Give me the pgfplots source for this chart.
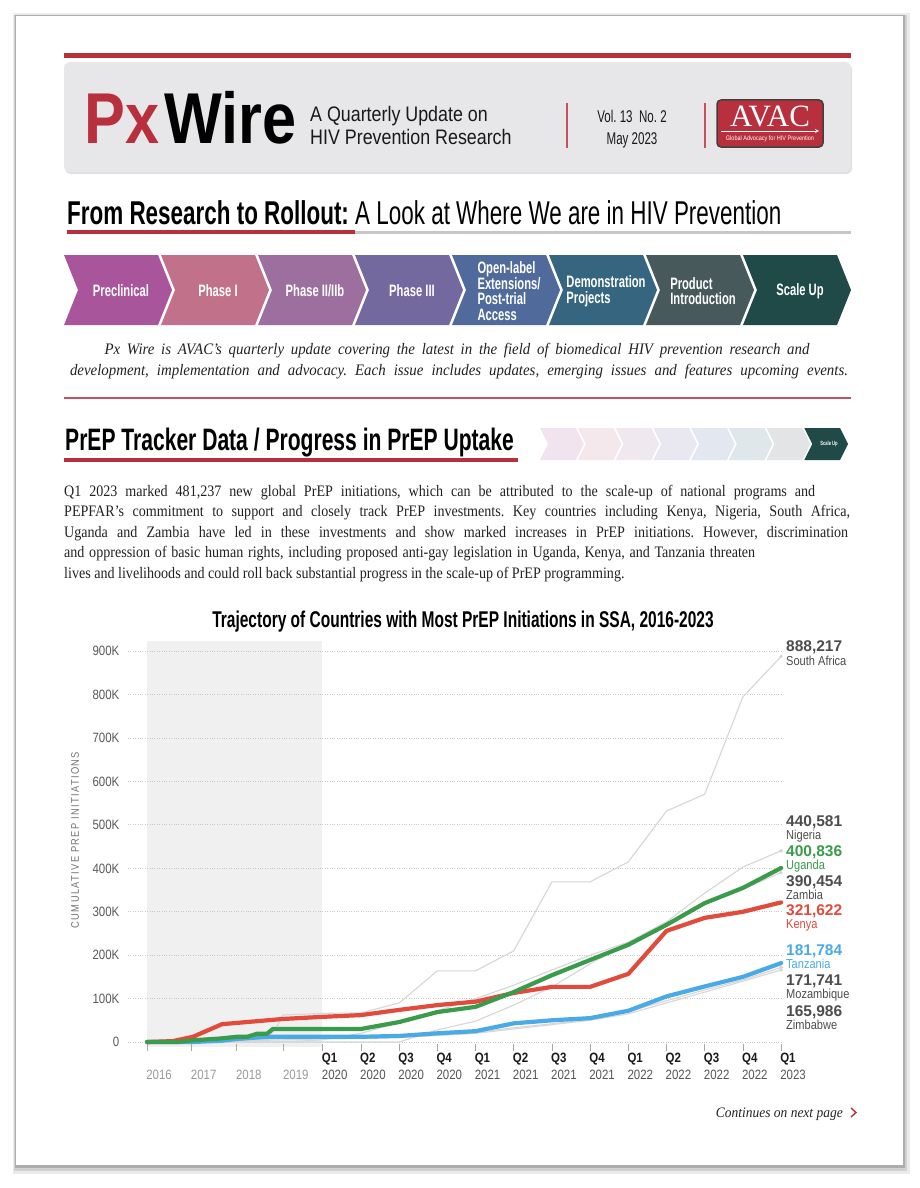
\documentclass[border=0pt]{standalone}
\usepackage{fontspec}
\usepackage{pgfplots}
\pgfplotsset{compat=1.18}
\setmainfont{Liberation Serif}
\newfontfamily\cond[FakeStretch=0.68]{Liberation Sans}
\newfontfamily\condm[FakeStretch=0.85]{Liberation Sans}
\newfontfamily\sansf{Liberation Sans}
\newfontfamily\bodyf[FakeStretch=0.88]{Liberation Serif}
\newfontfamily\itf[FakeStretch=0.93]{Liberation Serif}
\definecolor{avred}{HTML}{B82F3E}
\definecolor{sepred}{HTML}{C8505C}
\definecolor{hdrgray}{HTML}{E7E7E9}
\definecolor{ch1}{HTML}{A9559C}
\definecolor{ch2}{HTML}{C2718A}
\definecolor{ch3}{HTML}{9D6F9E}
\definecolor{ch4}{HTML}{73699F}
\definecolor{ch5}{HTML}{4F6A9B}
\definecolor{ch6}{HTML}{36667F}
\definecolor{ch7}{HTML}{47595B}
\definecolor{ch8}{HTML}{1F4A48}
\definecolor{kred}{HTML}{E04B3B}
\definecolor{ugreen}{HTML}{3A9B4B}
\definecolor{tblue}{HTML}{4AAAE6}
\definecolor{lgray}{HTML}{D6D6D6}
\definecolor{lab}{HTML}{4D4D4D}
\definecolor{yrgray}{HTML}{9A9A9A}
\definecolor{qgray}{HTML}{555555}
\definecolor{bodyc}{HTML}{222222}
\newcommand\fs[2]{\fontsize{#1}{#2}\selectfont}
\newcommand\yr[1]{\phantom{Q1}\\\textcolor{yrgray}{#1}}
\newcommand\qt[2]{\textcolor{black!90}{\bfseries Q#1}\\\textcolor{qgray}{#2}}
\frenchspacing
\begin{document}
\begin{tikzpicture}
\begin{scope}[x=1pt,y=-1pt]
\path[use as bounding box] (0,0) rectangle (920,1188);
\fill[white] (0,0) rectangle (920,1188);
% page card with shadow
\fill[black!8] (13,13) rectangle (910,1174);
\fill[black!18] (14,15) rectangle (907,1171);
\fill[black!32] (15,15) rectangle (905,1168);
\fill[white] (16,16) rectangle (903,1165);
% header
\fill[avred] (64,53) rectangle (851,58);
\fill[black!12, rounded corners=6] (65,64) rectangle (852,174);
\fill[hdrgray, rounded corners=6] (64,62) rectangle (851,172);
\node[anchor=base west,inner sep=0,text=avred,font=\condm\bfseries\fs{72}{72}] at (84,143) {Px};
\node[anchor=base west,inner sep=0,text=black,font=\condm\bfseries\fs{72}{72}] at (164,143) {Wire};
\node[anchor=base west,inner sep=0,text=black!90,font=\condm\fs{21}{21}] at (310,122) {A Quarterly Update on};
\node[anchor=base west,inner sep=0,text=black!90,font=\condm\fs{21}{21}] at (310,145) {HIV Prevention Research};
\draw[sepred, line width=1.2pt] (567,103) -- (567,148);
\draw[sepred, line width=1.2pt] (705,103) -- (705,148);
\node[anchor=base,inner sep=0,text=black!90,font=\cond\fs{17}{17}] at (632,123) {Vol. 13\ \ No. 2};
\node[anchor=base,inner sep=0,text=black!90,font=\cond\fs{17}{17}] at (632,144) {May 2023};
\draw[fill=avred, draw=black!75, line width=1.5pt, rounded corners=4] (717,100) rectangle (823,147);
\node[anchor=base,inner sep=0,text=white,font=\fs{31}{31}] at (770,127) {AVAC};
\draw[white, line width=0.8pt, -stealth] (721,131) -- (819,131);
\node[anchor=base,inner sep=0,text=white,font=\condm\fs{6.5}{6.5}] at (770,141) {Global Advocacy for HIV Prevention};
% section 1 title
\node[anchor=base west,inner sep=0,text=black,font=\cond\fs{33}{33}] at (67,224) {{\bfseries From Research to Rollout:} A Look at Where We are in HIV Prevention};
\fill[black!22] (355,231) rectangle (851,233.5);
\fill[avred] (67,230) rectangle (355,234);
% chevrons
\foreach \i/\c in {0/ch1,1/ch2,2/ch3,3/ch4,4/ch5,5/ch6,6/ch7,7/ch8}{
  \pgfmathsetmacro\xa{64+\i*97}
  \fill[\c] (\xa,255) -- ++(94,0) -- ++(14,35) -- ++(-14,35) -- ++(-94,0) -- ++(14,-35) -- cycle;
}
\foreach \i/\t in {0/{Preclinical},1/{Phase I},2/{Phase II/IIb},3/{Phase III},4/{Open-label\\Extensions/\\Post-trial\\Access},5/{Demonstration\\Projects},6/{Product\\Introduction},7/{Scale Up}}{
  \pgfmathsetmacro\xc{64+\i*97+57}
  \node[align=left,inner sep=0,text=white,font=\cond\bfseries\fs{16.5}{15.5}] at (\xc,291) {\t};
}
% italic intro
\node[anchor=base,inner sep=0,text=bodyc,font=\itf\itshape\fs{16}{16}] at (457,354) {\makebox[705pt][s]{Px Wire is AVAC’s quarterly update covering the latest in the field of biomedical HIV prevention research and}};
\node[anchor=base,inner sep=0,text=bodyc,font=\itf\itshape\fs{16}{16}] at (459,375) {\makebox[778pt][s]{development, implementation and advocacy. Each issue includes updates, emerging issues and features upcoming events.}};
\fill[sepred] (64,397) rectangle (851,399);
% section 2 title
\node[anchor=base west,inner sep=0,text=black,font=\cond\bfseries\fs{31}{31}] at (65,450) {PrEP Tracker Data / Progress in PrEP Uptake};
\fill[avred] (64,458) rectangle (518,462);
\foreach \i/\c in {0/ch1,1/ch2,2/ch3,3/ch4,4/ch5,5/ch6,6/ch7}{
  \pgfmathsetmacro\xa{540+\i*37.75}
  \fill[\c!16] (\xa,428) -- ++(35.75,0) -- ++(8,16) -- ++(-8,16) -- ++(-35.75,0) -- ++(8,-16) -- cycle;
}
\fill[ch8] (804.25,428) -- ++(35.75,0) -- ++(8,16) -- ++(-8,16) -- ++(-35.75,0) -- ++(8,-16) -- cycle;
\node[inner sep=0,text=white,font=\cond\bfseries\fs{6}{6}] at (829,444) {Scale Up};
% body text
\node[anchor=base west,inner sep=0,text=bodyc,font=\bodyf\fs{16}{16}] at (64,496) {\makebox[751pt][s]{Q1 2023 marked 481,237 new global PrEP initiations, which can be attributed to the scale-up of national programs and}};
\node[anchor=base west,inner sep=0,text=bodyc,font=\bodyf\fs{16}{16}] at (64,516.5) {\makebox[786pt][s]{PEPFAR’s commitment to support and closely track PrEP investments. Key countries including Kenya, Nigeria, South Africa,}};
\node[anchor=base west,inner sep=0,text=bodyc,font=\bodyf\fs{16}{16}] at (64,537) {\makebox[784pt][s]{Uganda and Zambia have led in these investments and show marked increases in PrEP initiations. However, discrimination}};
\node[anchor=base west,inner sep=0,text=bodyc,font=\bodyf\fs{16}{16}] at (64,557.5) {\makebox[691pt][s]{and oppression of basic human rights, including proposed anti-gay legislation in Uganda, Kenya, and Tanzania threaten}};
\node[anchor=base west,inner sep=0,text=bodyc,font=\bodyf\fs{16}{16}] at (64,578) {lives and livelihoods and could roll back substantial progress in the scale-up of PrEP programming.};
% chart title
\node[anchor=base,inner sep=0,text=black,font=\cond\bfseries\fs{22.8}{22.8}] at (463,627) {Trajectory of Countries with Most PrEP Initiations in SSA, 2016-2023};
\node[rotate=90,inner sep=0,text=black!55,font=\condm\fs{11}{11}\addfontfeatures{LetterSpace=12}] at (75,840) {CUMULATIVE PREP INITIATIONS};
% shaded pre-2020 band
\fill[black!6] (147,641) rectangle (322,1047.2);
% footer
\node[anchor=base east,inner sep=0,text=bodyc,font=\itf\itshape\fs{14.5}{14.5}] at (843,1117) {Continues on next page};
\draw[avred, line width=1.4pt] (851,1108) -- (856,1112.5) -- (851,1117);
\end{scope}

\begin{axis}[
  at={(128pt,-1047.2pt)}, anchor=south west,
  scale only axis, width=655pt, height=406.7pt,
  xmin=-5.1, xmax=12.05, ymin=-12000, ymax=925000,
  clip=false,
  axis line style={draw=none},
  ymajorgrids, grid style={dotted, line width=1pt, color=black!22},
  ytick={0,100000,200000,300000,400000,500000,600000,700000,800000,900000},
  yticklabels={0,100K,200K,300K,400K,500K,600K,700K,800K,900K},
  scaled y ticks=false,
  yticklabel style={font=\condm\fs{13.5}{13.5}, text=black!65, inner sep=0pt, xshift=-5pt},
  ytick style={draw=none},
  tick pos=left,
  xtick={-4.6,-3.43,-2.25,-1.02,0,1,2,3,4,5,6,7,8,9,10,11,12},
  xticklabels={{\yr{2016}},{\yr{2017}},{\yr{2018}},{\yr{2019}},{\qt{1}{2020}},{\qt{2}{2020}},{\qt{3}{2020}},{\qt{4}{2020}},{\qt{1}{2021}},{\qt{2}{2021}},{\qt{3}{2021}},{\qt{4}{2021}},{\qt{1}{2022}},{\qt{2}{2022}},{\qt{3}{2022}},{\qt{4}{2022}},{\qt{1}{2023}}},
  xtick style={draw=black!35, line width=0.8pt},
  major tick length=7pt, tick align=center,
  xticklabel style={anchor=north west, align=left, inner sep=0pt, xshift=-1pt, yshift=-2.5pt, font=\condm\fs{13.5}{17}},
]
% South Africa
\addplot[lgray, line width=1.1pt] coordinates {(-4.6,0) (-2.25,0) (-1.46,8000) (-1.2,35000) (-1.05,62000) (0,66000) (1,67000) (2,90000) (3,164000) (4,164000) (5,210000) (6,369000) (7,369000) (8,415000) (9,532000) (10,571000) (11,795000) (12,888217)};
% Nigeria
\addplot[lgray, line width=1.1pt] coordinates {(-4.6,0) (-1.05,0) (0,5000) (1,20000) (2,45000) (3,72000) (4,100000) (5,131000) (6,166000) (7,200000) (8,230000) (9,277000) (10,343000) (11,403000) (12,440581)};
% Zambia
\addplot[lgray, line width=1.1pt] coordinates {(-4.6,0) (2,0) (3,28000) (4,48000) (5,85000) (6,127000) (7,180000) (8,230000) (9,272000) (10,318000) (11,352000) (12,390454)};
% Mozambique
\addplot[lgray, line width=1.1pt] coordinates {(-4.6,0) (-3.4,0) (-2.25,3000) (-1.05,8000) (0,10000) (1,10000) (2,12000) (3,17000) (4,22000) (5,33000) (6,42000) (7,52000) (8,70000) (9,95000) (10,120000) (11,143000) (12,171741)};
% Zimbabwe
\addplot[lgray, line width=1.1pt] coordinates {(-4.6,0) (-2.25,2000) (-1.05,5000) (0,7000) (1,8000) (2,10000) (3,15000) (4,20000) (5,30000) (6,40000) (7,50000) (8,65000) (9,90000) (10,115000) (11,140000) (12,165986)};
\addplot[only marks, mark=*, mark size=1.6pt, color=lgray] coordinates {(12,888217) (12,440581) (12,390454) (12,171741) (12,165986)};
% Tanzania
\addplot[tblue, line width=4.2pt, line join=round, line cap=round] coordinates {(-4.6,0) (-3.4,0) (-2.64,3000) (-2.25,7000) (-1.46,12000) (0,12000) (1,12000) (2,14000) (3,20000) (4,25000) (5,43000) (6,50000) (7,55000) (8,72000) (9,105000) (10,128000) (11,150000) (12,181784)};
% Kenya
\addplot[kred, line width=4.2pt, line join=round, line cap=round] coordinates {(-4.6,0) (-3.93,2000) (-3.4,12000) (-2.64,41000) (-2.25,44000) (-1.05,53000) (0,58000) (1,62000) (2,74000) (3,85000) (4,93000) (5,113000) (6,127000) (7,127000) (8,157000) (9,256000) (10,286000) (11,300000) (12,321622)};
% Uganda
\addplot[ugreen, line width=4.2pt, line join=round, line cap=round] coordinates {(-4.6,0) (-3.8,0) (-3.39,4000) (-2.69,8000) (-2.25,12000) (-1.98,12000) (-1.72,19000) (-1.46,19000) (-1.31,30000) (-1.04,30000) (0,30000) (1,30000) (2,46000) (3,69000) (4,81000) (5,115000) (6,154000) (7,189000) (8,224000) (9,270000) (10,320000) (11,355000) (12,400836)};
\end{axis}

\begin{scope}[x=1pt,y=-1pt]
\tikzset{vl/.style={anchor=base west,inner sep=0,font=\sansf\bfseries\fs{15.5}{15.5}}, nl/.style={anchor=base west,inner sep=0,font=\condm\fs{13}{13}}}
\node[vl,text=lab] at (786,651) {888,217};
\node[nl,text=lab] at (786,665) {South Africa};
\node[vl,text=lab] at (786,826) {440,581};
\node[nl,text=lab] at (786,839) {Nigeria};
\node[vl,text=ugreen] at (786,856) {400,836};
\node[nl,text=ugreen] at (786,869) {Uganda};
\node[vl,text=lab] at (786,886) {390,454};
\node[nl,text=lab] at (786,899) {Zambia};
\node[vl,text=kred] at (786,915) {321,622};
\node[nl,text=kred] at (786,928) {Kenya};
\node[vl,text=tblue] at (786,955) {181,784};
\node[nl,text=tblue] at (786,968) {Tanzania};
\node[vl,text=lab] at (786,985) {171,741};
\node[nl,text=lab] at (786,998) {Mozambique};
\node[vl,text=lab] at (786,1016) {165,986};
\node[nl,text=lab] at (786,1029) {Zimbabwe};
\end{scope}
\end{tikzpicture}
\end{document}
